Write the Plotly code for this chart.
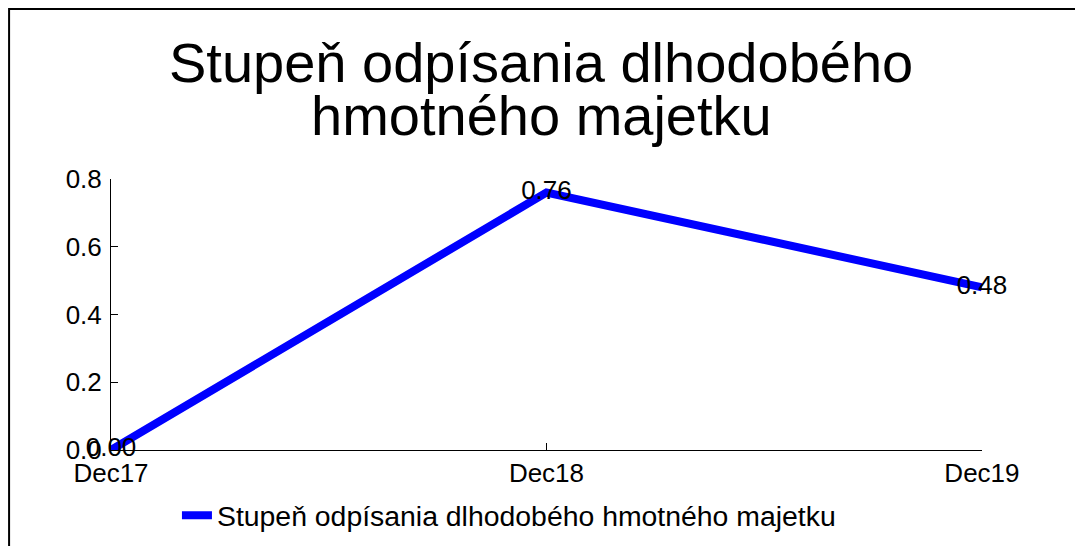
import plotly.graph_objects as go

# data
periods = ["Dec17", "Dec18", "Dec19"]
values = [0.00, 0.76, 0.48]
labels = ["0.00", "0.76", "0.48"]
series_name = "Stupeň odpísania dlhodobého hmotného majetku"
title_lines = ["Stupeň odpísania dlhodobého", "hmotného majetku"]

FONT = "Liberation Sans, Arial, sans-serif"

fig = go.Figure()
fig.add_trace(go.Scatter(
    x=periods, y=values, mode="lines+text",
    name=series_name,
    text=labels, textposition="middle center",
    textfont=dict(size=26, color="black", family=FONT),
    line=dict(color="#0000FF", width=8),
    cliponaxis=False,
))

# title as two annotations (tighter line spacing than plotly's title)
fig.add_annotation(text=title_lines[0], xref="paper", yref="paper",
                   x=0.4926, y=0.9007, xanchor="center", yanchor="middle",
                   showarrow=False, font=dict(size=56, color="black", family=FONT))
fig.add_annotation(text=title_lines[1], xref="paper", yref="paper",
                   x=0.4926, y=0.8022, xanchor="center", yanchor="middle",
                   showarrow=False, font=dict(size=56, color="black", family=FONT))

# outer frame
fig.add_shape(type="rect", xref="paper", yref="paper",
              x0=0.001, x1=1.02, y0=-0.05, y1=0.9982,
              line=dict(color="black", width=2))

# zero margins, plot area placed with domains; page adds an 8px body offset
fig.update_layout(
    template="none",
    width=1083, height=546,
    margin=dict(l=0, r=0, t=0, b=0, autoexpand=False),
    paper_bgcolor="white", plot_bgcolor="white",
    font=dict(family=FONT, color="black"),
    showlegend=True,
    legend=dict(orientation="h", x=0.156, y=0.0708, xanchor="left", yanchor="middle",
                bgcolor="rgba(0,0,0,0)",
                font=dict(size=28.4, color="black", family=FONT)),
    xaxis=dict(type="category", range=[0, 2], domain=[0.0951, 0.8993], automargin=False,
               showgrid=False, zeroline=False,
               showline=True, linecolor="black", linewidth=1,
               ticks="inside", ticklen=7, tickcolor="black",
               tickfont=dict(size=26, color="black", family=FONT)),
    yaxis=dict(range=[0, 0.8], dtick=0.2, tickformat=".1f", domain=[0.1905, 0.6869],
               automargin=False, showgrid=False, zeroline=False,
               showline=True, linecolor="black", linewidth=1,
               ticks="inside", ticklen=7, tickcolor="black", ticklabelstandoff=3,
               tickfont=dict(size=26, color="black", family=FONT)),
    xaxis2=dict(overlaying="x", side="bottom", range=[0, 2], tickvals=[0, 1, 2],
                automargin=False, showticklabels=False, showgrid=False, zeroline=False,
                ticks="outside", ticklen=7, tickcolor="black"),
    yaxis2=dict(overlaying="y", side="left", range=[0, 0.8], dtick=0.2, showticklabels=False,
                automargin=False, showgrid=False, zeroline=False,
                ticks="outside", ticklen=7, tickcolor="black"),
)

fig.write_html("out.html")
